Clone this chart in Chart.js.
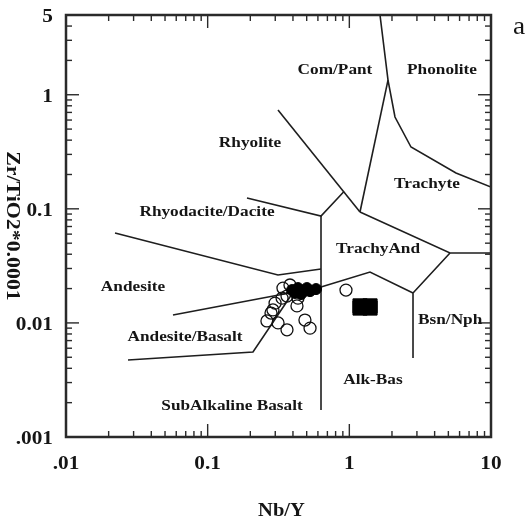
<!DOCTYPE html>
<html>
<head>
<meta charset="utf-8">
<script src="https://cdn.jsdelivr.net/npm/chart.js@4.4.1/dist/chart.umd.min.js"></script>
<style>
  html, body { margin: 0; padding: 0; background: #fff; }
  canvas { display: block; }
</style>
</head>
<body>
<canvas id="chart" width="526" height="526"></canvas>
<script>
// Nb/Y vs Zr/TiO2*0.0001 rock classification diagram (log-log), field boundaries + samples

// Axis ticks
const xTickValues = [0.01, 0.1, 1, 10];
const xTickLabels = ['.01', '0.1', '1', '10'];
const yTickValues = [0.001, 0.01, 0.1, 1, 5];
const yTickLabels = ['.001', '0.01', '0.1', '1', '5'];

// Field boundaries: polylines of [Nb/Y, Zr/TiO2*0.0001]
const comPantPhonolite = [[1.646, 5], [1.875, 1.345], [2.10, 0.638], [2.724, 0.348], [5.66, 0.206], [10, 0.155]];
const comPantTrachyte = [[1.875, 1.345], [1.189, 0.0938]];
const rhyoliteLine = [[0.3136, 0.734], [1.189, 0.0938]];
const trachyteLower = [[1.189, 0.0938], [5.135, 0.041], [10, 0.041]];
const trachyAndRight = [[5.135, 0.041], [2.815, 0.01828], [2.815, 0.00493]];
const trachyAndLower = [[0.631, 0.02064], [1.399, 0.02793], [2.815, 0.01828]];
const alkBasLeft = [[0.631, 0.0865], [0.631, 0.001724]];
const rhyodaciteLower = [[0.1895, 0.1244], [0.631, 0.0865], [0.917, 0.1418]];
const andesiteUpper = [[0.02218, 0.0614], [0.3136, 0.0263], [0.631, 0.02968]];
const andBasUpper = [[0.0569, 0.01173], [0.631, 0.02064]];
const andBasLower = [[0.0274, 0.00473], [0.2089, 0.00556], [0.4068, 0.01904]];

const boundaries = [
  comPantPhonolite, comPantTrachyte, rhyoliteLine, trachyteLower, trachyAndRight,
  trachyAndLower, alkBasLeft, rhyodaciteLower, andesiteUpper, andBasUpper, andBasLower
];

// Samples: open circles
const openNbY  = [0.340, 0.381, 0.335, 0.363, 0.299, 0.289, 0.280, 0.262, 0.314, 0.363, 0.427, 0.486, 0.528, 0.434, 0.947];
const openZrTi = [0.0202, 0.0215, 0.0165, 0.0172, 0.0149, 0.0130, 0.0122, 0.0104, 0.0100, 0.0087, 0.0141, 0.0106, 0.0090, 0.0165, 0.0194];

// Samples: filled circles
const filledNbY  = [0.394, 0.434, 0.479, 0.528, 0.582, 0.456, 0.414, 0.502];
const filledZrTi = [0.0194, 0.0202, 0.0190, 0.0190, 0.0198, 0.0179, 0.0183, 0.0202];

// Samples: filled squares
const squareNbY  = [1.19, 1.40, 1.19, 1.40, 1.29];
const squareZrTi = [0.0141, 0.0141, 0.0135, 0.0135, 0.0138];

// Field names, anchored at [Nb/Y, Zr/TiO2*0.0001]
const fieldNames = [
  ['Com/Pant', 0.792, 1.646],
  ['Phonolite', 4.51, 1.646],
  ['Rhyolite', 0.199, 0.377],
  ['Trachyte', 3.53, 0.165],
  ['Rhyodacite/Dacite', 0.0989, 0.0938],
  ['TrachyAnd', 1.594, 0.0444],
  ['Andesite', 0.0297, 0.02064],
  ['Andesite/Basalt', 0.0692, 0.00752],
  ['SubAlkaline Basalt', 0.1485, 0.00187],
  ['Alk-Bas', 1.469, 0.00316],
  ['Bsn/Nph', 5.15, 0.0106]
];

const SERIF = '"Liberation Serif", "Times New Roman", serif';
const INK = '#151515';

const toPoints = (xs, ys) => xs.map((v, i) => ({ x: v, y: ys[i] }));

const datasets = [];
boundaries.forEach(line => {
  datasets.push({
    data: line.map(p => ({ x: p[0], y: p[1] })),
    showLine: true,
    borderColor: '#1e1e1e',
    borderWidth: 1.6,
    pointRadius: 0,
    tension: 0,
    order: 3
  });
});
datasets.push({
  data: toPoints(openNbY, openZrTi),
  pointStyle: 'circle',
  pointRadius: 6,
  borderColor: '#111',
  borderWidth: 1.3,
  backgroundColor: 'rgba(0,0,0,0)',
  order: 2
});
datasets.push({
  data: toPoints(filledNbY, filledZrTi),
  pointStyle: 'circle',
  pointRadius: 5.5,
  borderColor: '#000',
  borderWidth: 1,
  backgroundColor: '#000',
  order: 1
});
datasets.push({
  data: toPoints(squareNbY, squareZrTi),
  pointStyle: 'rect',
  pointRadius: 10,
  borderColor: '#000',
  borderWidth: 1,
  backgroundColor: '#000',
  order: 0
});

function stretchedText(ctx, text, x, y, font, sx, align, rotate) {
  ctx.save();
  ctx.translate(x, y);
  if (rotate) ctx.rotate(rotate);
  ctx.scale(sx, 1);
  ctx.font = font;
  ctx.fillStyle = INK;
  ctx.textAlign = align;
  ctx.textBaseline = 'middle';
  ctx.fillText(text, 0, 0);
  ctx.restore();
}

function logSteps(min, max) {
  const out = [];
  const lo = Math.floor(Math.log10(min) + 1e-9);
  const hi = Math.ceil(Math.log10(max) - 1e-9);
  for (let d = lo; d <= hi; d++) {
    for (let m = 1; m <= 9; m++) {
      const v = m * Math.pow(10, d);
      if (v > min * 1.0001 && v < max * 0.9999) out.push({ v, major: m === 1 });
    }
  }
  return out;
}

const frameAndText = {
  id: 'frameAndText',
  afterDatasetsDraw(chart) {
    const { ctx, chartArea: a, scales: { x, y } } = chart;
    ctx.save();
    ctx.strokeStyle = '#2a2a2a';
    ctx.lineCap = 'butt';

    // inward tick marks on all four sides
    ctx.lineWidth = 1.4;
    const seg = (x1, y1, x2, y2) => { ctx.beginPath(); ctx.moveTo(x1, y1); ctx.lineTo(x2, y2); ctx.stroke(); };
    logSteps(x.min, x.max).forEach(t => {
      const px = x.getPixelForValue(t.v);
      const len = t.major ? 13 : 6;
      seg(px, a.bottom, px, a.bottom - len);
      seg(px, a.top, px, a.top + len);
    });
    logSteps(y.min, y.max).forEach(t => {
      const py = y.getPixelForValue(t.v);
      const len = t.major ? 13 : 6;
      seg(a.left, py, a.left + len, py);
      seg(a.right, py, a.right - len, py);
    });

    // plot frame
    ctx.lineWidth = 2.5;
    ctx.strokeRect(a.left, a.top, a.right - a.left, a.bottom - a.top);
    ctx.restore();

    // tick labels
    const tickFont = 'bold 19px ' + SERIF;
    xTickValues.forEach((v, i) => {
      stretchedText(ctx, xTickLabels[i], x.getPixelForValue(v), a.bottom + 27, tickFont, 1.12, 'center');
    });
    yTickValues.forEach((v, i) => {
      stretchedText(ctx, yTickLabels[i], a.left - 13, y.getPixelForValue(v) + 2, tickFont, 1.12, 'right');
    });

    // field names
    const fieldFont = 'bold 15px ' + SERIF;
    fieldNames.forEach(([name, fx, fy]) => {
      stretchedText(ctx, name, x.getPixelForValue(fx), y.getPixelForValue(fy), fieldFont, 1.15, 'center');
    });

    // axis titles
    stretchedText(ctx, 'Nb/Y', (a.left + a.right) / 2 + 3, a.bottom + 74, 'bold 19px ' + SERIF, 1.08, 'center');
    stretchedText(ctx, 'Zr/TiO2*0.0001', a.left - 54, (a.top + a.bottom) / 2, 'bold 19px ' + SERIF, 1.15, 'center', Math.PI / 2);

    // panel letter
    stretchedText(ctx, 'a', a.right + 28, a.top + 12, '26px ' + SERIF, 1.05, 'center');
  }
};

new Chart(document.getElementById('chart'), {
  type: 'scatter',
  data: { datasets },
  options: {
    responsive: false,
    animation: false,
    devicePixelRatio: 1,
    layout: { padding: { left: 66, right: 35, top: 15, bottom: 89 } },
    plugins: { legend: { display: false }, tooltip: { enabled: false } },
    scales: {
      x: { type: 'logarithmic', min: 0.01, max: 10, display: false },
      y: { type: 'logarithmic', min: 0.001, max: 5, display: false }
    },
    elements: { line: { fill: false } }
  },
  plugins: [frameAndText]
});
</script>
</body>
</html>
